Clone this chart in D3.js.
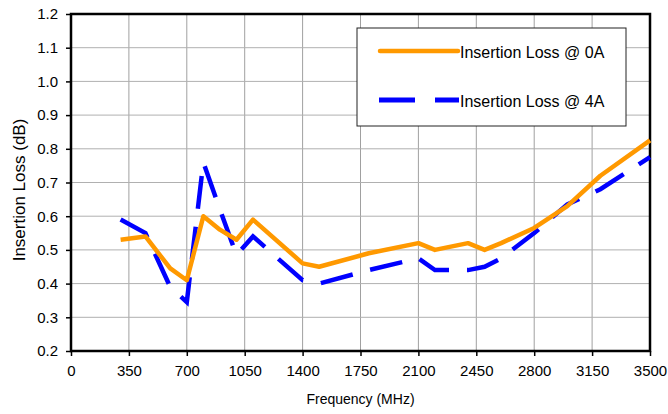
<!DOCTYPE html>
<html>
<head>
<meta charset="utf-8">
<script src="https://cdn.jsdelivr.net/npm/d3@7"></script>
<style>
  body { margin: 0; background: #fff; }
  svg { font-family: "Liberation Sans", Arial, sans-serif; }
</style>
</head>
<body>
<div id="chart"></div>
<script>
// data
var freqs = [300, 450, 600, 700, 800, 900, 1000, 1100, 1400, 1500, 1800, 2100, 2200, 2400, 2500, 2600, 2800, 3000, 3200, 3500];
var loss0A = [0.53, 0.54, 0.445, 0.41, 0.60, 0.56, 0.53, 0.59, 0.46, 0.45, 0.49, 0.52, 0.50, 0.52, 0.50, 0.52, 0.565, 0.63, 0.72, 0.825];
var loss4A = [0.59, 0.55, 0.39, 0.345, 0.76, 0.62, 0.485, 0.54, 0.41, 0.40, 0.44, 0.475, 0.44, 0.44, 0.45, 0.475, 0.55, 0.635, 0.68, 0.775];
var xTicks = [0, 350, 700, 1050, 1400, 1750, 2100, 2450, 2800, 3150, 3500];
var yTicks = [0.2, 0.3, 0.4, 0.5, 0.6, 0.7, 0.8, 0.9, 1.0, 1.1, 1.2];
var seriesNames = ["Insertion Loss @ 0A", "Insertion Loss @ 4A"];

var svgWidth = 668;
var svgHeight = 414;
var margin = { top: 14, right: 18, bottom: 63, left: 71 };
var width = svgWidth - margin.left - margin.right;
var height = svgHeight - margin.top - margin.bottom;

var svg = d3.select("#chart")
  .append("svg")
  .attr("width", svgWidth)
  .attr("height", svgHeight);

var chartGroup = svg.append("g")
  .attr("transform", `translate(${margin.left}, ${margin.top})`);

// scales
var xScale = d3.scaleLinear().domain([0, 3500]).range([0, width]);
var yScale = d3.scaleLinear().domain([0.2, 1.2]).range([height, 0]);

// grid
chartGroup.append("g")
  .selectAll("line")
  .data(xTicks.slice(1, -1))
  .enter()
  .append("line")
  .attr("x1", d => xScale(d)).attr("x2", d => xScale(d))
  .attr("y1", 0).attr("y2", height)
  .attr("stroke", "#a0a0a0").attr("stroke-width", 1);

chartGroup.append("g")
  .selectAll("line")
  .data(yTicks.slice(1, -1))
  .enter()
  .append("line")
  .attr("x1", 0).attr("x2", width)
  .attr("y1", d => yScale(d)).attr("y2", d => yScale(d))
  .attr("stroke", "#b0b0b0").attr("stroke-width", 1);

// axes
var xAxis = d3.axisBottom(xScale).tickValues(xTicks).tickSize(5).tickPadding(9).tickFormat(d3.format("d"));
var yAxis = d3.axisLeft(yScale).tickValues(yTicks).tickSize(5).tickPadding(8).tickFormat(d3.format(".1f"));

var gx = chartGroup.append("g")
  .attr("transform", `translate(0, ${height})`)
  .call(xAxis);
var gy = chartGroup.append("g").call(yAxis);

[gx, gy].forEach(g => {
  g.select(".domain").remove();
  g.selectAll("line").attr("stroke", "#000").attr("stroke-width", 1.5);
  g.selectAll("text").attr("fill", "#000").style("font-size", "15px")
    .style("font-family", "'Liberation Sans', Arial, sans-serif");
});

// frame
chartGroup.append("rect")
  .attr("width", width).attr("height", height)
  .attr("fill", "none").attr("stroke", "#000").attr("stroke-width", 2.5);

// lines
var line0 = d3.line().x((d, i) => xScale(freqs[i])).y(d => yScale(d));

chartGroup.append("path")
  .datum(loss4A)
  .attr("d", line0)
  .attr("fill", "none")
  .attr("stroke", "#0000ff")
  .attr("stroke-width", 4.5)
  .attr("stroke-dasharray", "33,18");

chartGroup.append("path")
  .datum(loss0A)
  .attr("d", line0)
  .attr("fill", "none")
  .attr("stroke", "#ff9900")
  .attr("stroke-width", 4.5)
  .attr("stroke-linejoin", "round");

// axis titles
svg.append("text")
  .attr("x", margin.left + width / 2)
  .attr("y", 404)
  .attr("text-anchor", "middle")
  .style("font-size", "14px")
  .text("Frequency (MHz)");

svg.append("text")
  .attr("transform", "translate(25, 190) rotate(-90)")
  .attr("text-anchor", "middle")
  .style("font-size", "17px")
  .text("Insertion Loss (dB)");

// legend
var legend = svg.append("g").attr("transform", "translate(357, 28)");
legend.append("rect")
  .attr("width", 269).attr("height", 98)
  .attr("fill", "#fff").attr("stroke", "#222").attr("stroke-width", 1);

legend.append("line")
  .attr("x1", 23).attr("x2", 101).attr("y1", 23).attr("y2", 23)
  .attr("stroke", "#ff9900").attr("stroke-width", 4.5).attr("stroke-linecap", "round");
legend.append("line")
  .attr("x1", 22).attr("x2", 102).attr("y1", 72).attr("y2", 72)
  .attr("stroke", "#0000ff").attr("stroke-width", 5).attr("stroke-dasharray", "36,20");

legend.selectAll("text.lbl")
  .data(seriesNames)
  .enter()
  .append("text")
  .attr("x", 103)
  .attr("y", (d, i) => 30 + i * 49)
  .style("font-size", "16px")
  .text(d => d);
</script>
</body>
</html>
